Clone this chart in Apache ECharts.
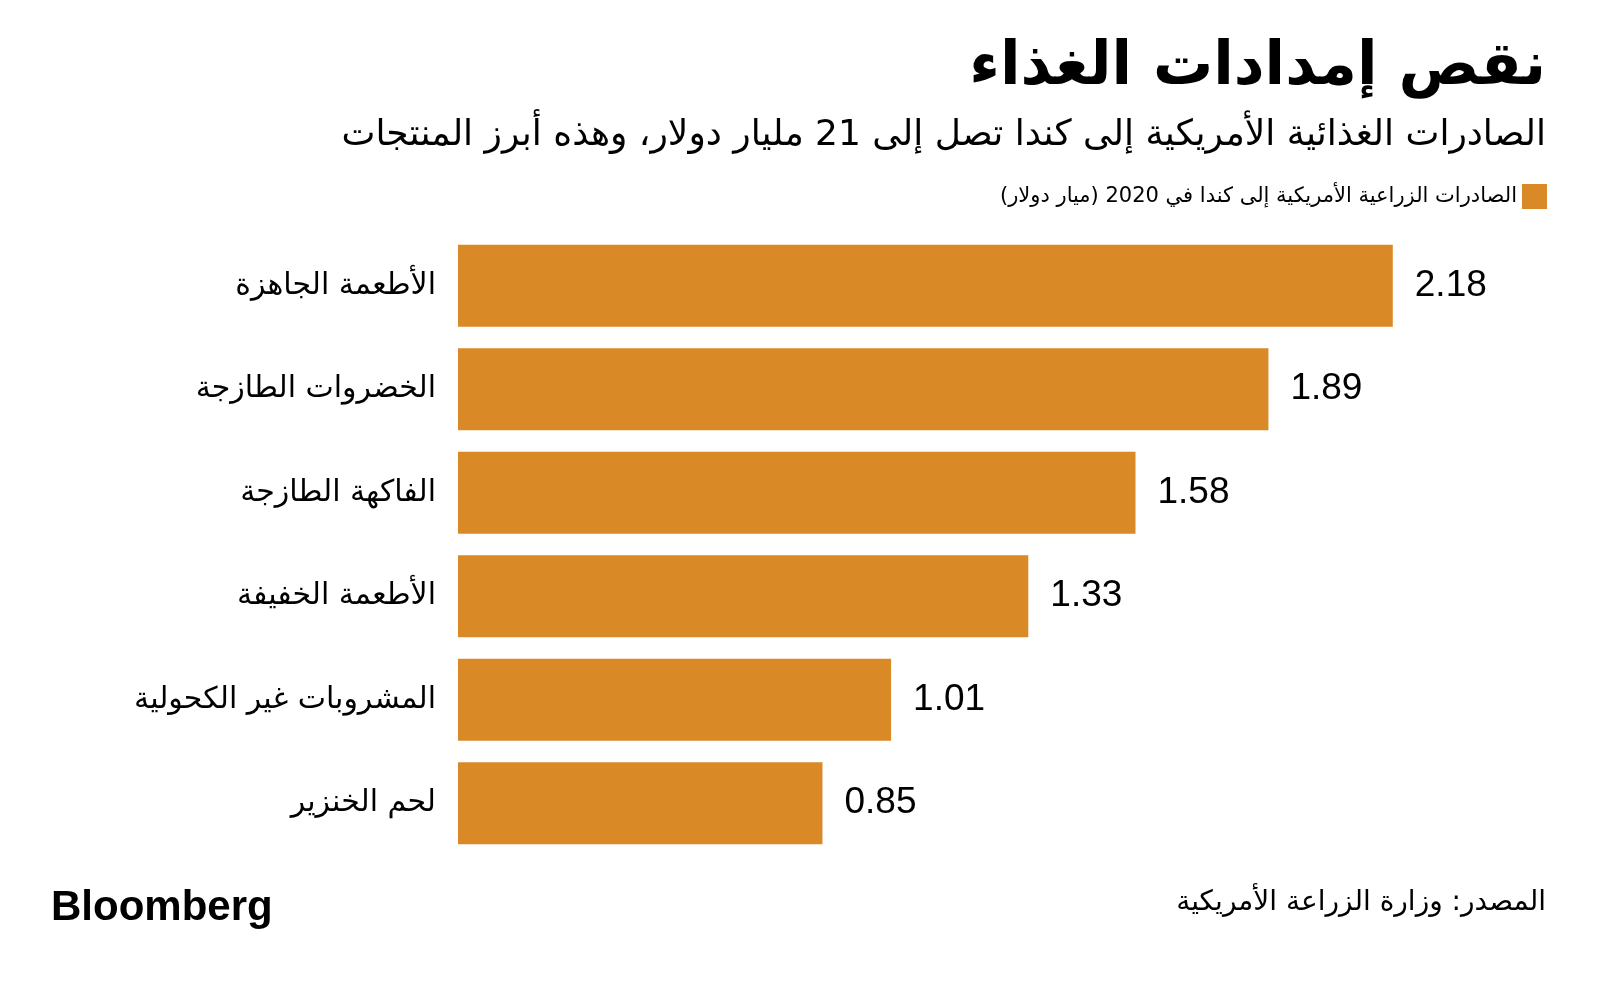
<!DOCTYPE html>
<html>
<head>
<meta charset="utf-8">
<script src="https://cdn.jsdelivr.net/npm/echarts@6/dist/echarts.min.js"></script>
<style>
html,body{margin:0;padding:0;background:#fff;}
#chart{width:1600px;height:986px;}
</style>
</head>
<body>
<div id="chart" dir="rtl"></div>
<script>
const titleText = 'نقص إمدادات الغذاء';
const subtitleText = 'الصادرات الغذائية الأمريكية إلى كندا تصل إلى 21 مليار دولار، وهذه أبرز المنتجات';
const seriesName = 'الصادرات الزراعية الأمريكية إلى كندا في 2020 (ميار دولار)';
const sourceText = 'المصدر: وزارة الزراعة الأمريكية';
const categories = ['الأطعمة الجاهزة','الخضروات الطازجة','الفاكهة الطازجة','الأطعمة الخفيفة','المشروبات غير الكحولية','لحم الخنزير'];
const values = [2.18, 1.89, 1.58, 1.33, 1.01, 0.85];

const arFont = '"DejaVu Sans", "Noto Sans", sans-serif';
const chart = echarts.init(document.getElementById('chart'), null, {renderer:'canvas'});
chart.setOption({
  backgroundColor:'#ffffff',
  animation:false,
  title:[
    {text:titleText, right:54, top:38, padding:0, textStyle:{fontFamily:arFont, fontSize:60, fontWeight:'bold', color:'#000'}},
    {text:subtitleText, right:54, top:118, padding:0, textStyle:{fontFamily:arFont, fontSize:36, fontWeight:'normal', color:'#000'}},
    {text:sourceText, right:54, top:889, padding:0, textStyle:{fontFamily:arFont, fontSize:28, fontWeight:'normal', color:'#000'}},
    {text:'Bloomberg', left:51, top:887, padding:0, textStyle:{fontFamily:'"Liberation Sans", Arial, sans-serif', fontSize:42, fontWeight:'bold', color:'#000'}}
  ],
  legend:{
    right:53, top:184, padding:0, itemWidth:25, itemHeight:25, itemGap:10, icon:'rect', align:'right',
    textStyle:{fontFamily:arFont, fontSize:21, color:'#000'},
    data:[seriesName]
  },
  grid:{left:458, right:70, top:234, height:621, containLabel:false},
  xAxis:{type:'value', min:0, max:2.5, show:false},
  yAxis:{
    type:'category', data:categories, inverse:true,
    axisLine:{show:false}, axisTick:{show:false}, splitLine:{show:false},
    axisLabel:{fontFamily:arFont, fontSize:30, color:'#000', margin:22}
  },
  series:[{
    name:seriesName, type:'bar', data:values, barCategoryGap:'21%',
    itemStyle:{color:'#D98A26'},
    label:{show:true, position:'right', distance:22, formatter:p=>p.value.toFixed(2),
      fontFamily:'"Liberation Sans", Arial, sans-serif', fontSize:37, color:'#000'}
  }]
});
</script>
</body>
</html>
